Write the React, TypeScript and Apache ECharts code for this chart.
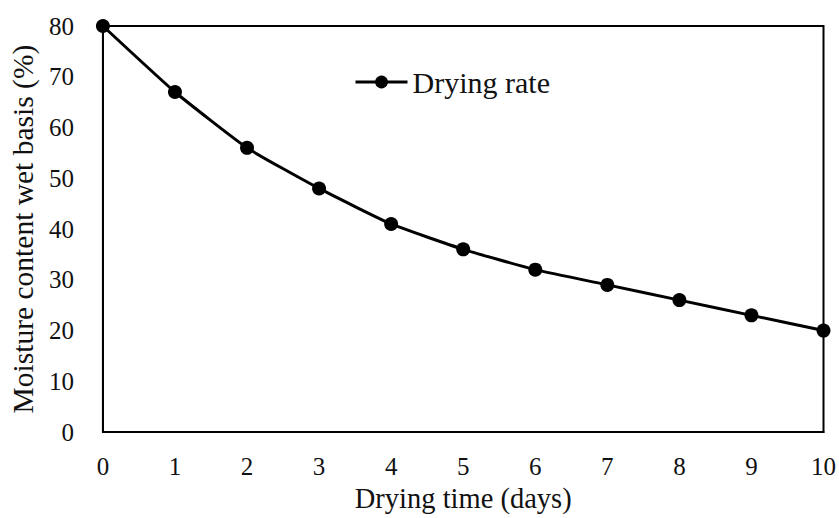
import React, { useEffect, useRef } from "react";
import * as echarts from "echarts";

const days = [0, 1, 2, 3, 4, 5, 6, 7, 8, 9, 10];
const moisture = [80, 67, 56, 48, 41, 36, 32, 29, 26, 23, 20];
const seriesName = "Drying rate";
const xTitle = "Drying time (days)";
const yTitle = "Moisture content wet basis (%)";

export default function App() {
  const ref = useRef<HTMLDivElement>(null);
  useEffect(() => {
    if (!ref.current) return;
    const chart = echarts.init(ref.current, undefined, { renderer: "svg" });
    const font = "'Liberation Serif', 'Times New Roman', serif";
    chart.setOption({
      animation: false,
      backgroundColor: "#ffffff",
      textStyle: { fontFamily: font },
      grid: {
        left: 102,
        top: 26,
        right: 14,
        bottom: 80,
        show: true,
        borderColor: "#000",
        borderWidth: 2,
        containLabel: false,
      },
      legend: {
        left: 349,
        top: 62,
        itemWidth: 52,
        itemHeight: 16,
        itemGap: 10,
        lineStyle: { width: 3, color: "#000" },
        textStyle: { fontFamily: font, fontSize: 30, color: "#111" },
        data: [seriesName],
      },
      xAxis: {
        type: "value",
        min: 0,
        max: 10,
        interval: 1,
        name: xTitle,
        nameLocation: "middle",
        nameGap: 47,
        nameTextStyle: { fontFamily: font, fontSize: 28.5, color: "#111" },
        axisLine: { show: true, lineStyle: { color: "#000", width: 2 } },
        axisTick: { show: false },
        splitLine: { show: false },
        axisLabel: { margin: 22, fontFamily: font, fontSize: 25, color: "#111" },
      },
      yAxis: {
        type: "value",
        min: 0,
        max: 80,
        interval: 10,
        name: yTitle,
        nameLocation: "middle",
        nameGap: 62,
        nameTextStyle: { fontFamily: font, fontSize: 29.5, color: "#111" },
        axisLine: { show: true, lineStyle: { color: "#000", width: 2 } },
        axisTick: { show: false },
        splitLine: { show: false },
        axisLabel: { margin: 29, fontFamily: font, fontSize: 25, color: "#111" },
      },
      series: [
        {
          name: seriesName,
          type: "line",
          data: days.map((d, i) => [d, moisture[i]]),
          smooth: 0.15,
          symbol: "circle",
          symbolSize: 14,
          showSymbol: true,
          clip: false,
          lineStyle: { color: "#000", width: 3 },
          itemStyle: { color: "#000" },
        },
      ],
    });
    return () => chart.dispose();
  }, []);
  return (
    <div
      ref={ref}
      style={{ position: "absolute", left: 0, top: 0, width: 839, height: 518 }}
    />
  );
}
